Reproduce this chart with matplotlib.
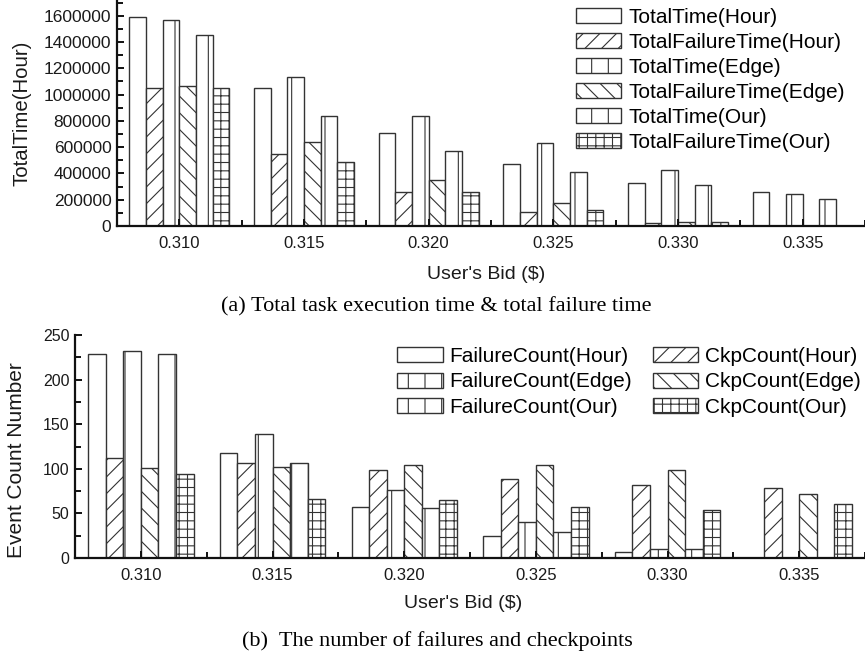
import numpy as np
import matplotlib.pyplot as plt
from matplotlib.ticker import MultipleLocator, FixedLocator, StrMethodFormatter

plt.rcParams['font.family'] = ['Liberation Sans', 'DejaVu Sans']
plt.rcParams['hatch.linewidth'] = 0.8

# ---------------- data ----------------
bids = [0.310, 0.315, 0.320, 0.325, 0.330, 0.335]
bid_labels = ["0.310", "0.315", "0.320", "0.325", "0.330", "0.335"]

# (a) total execution time / total failure time
total_time_hour = [1590000, 1050000, 710000, 472000, 328000, 262000]
fail_time_hour = [1048000, 545000, 255000, 105000, 20000, 0]
total_time_edge = [1565000, 1137000, 840000, 634000, 430000, 246000]
fail_time_edge = [1068000, 642000, 350000, 176000, 32000, 0]
total_time_our = [1453000, 840000, 570000, 408000, 315000, 202000]
fail_time_our = [1048000, 490000, 255000, 121000, 32000, 0]

# (b) failure count / checkpoint count
fail_count_hour = [229, 118, 57, 25, 7, 0]
ckp_count_hour = [112, 106, 99, 89, 82, 78]
fail_count_edge = [232, 139, 76, 40, 10, 0]
ckp_count_edge = [101, 102, 104, 104, 99, 72]
fail_count_our = [229, 106, 56, 29, 10, 0]
ckp_count_our = [94, 66, 65, 57, 54, 60]

top_series = [
    ("TotalTime(Hour)", total_time_hour, ""),
    ("TotalFailureTime(Hour)", fail_time_hour, "//"),
    ("TotalTime(Edge)", total_time_edge, "|"),
    ("TotalFailureTime(Edge)", fail_time_edge, "\\\\"),
    ("TotalTime(Our)", total_time_our, "|"),
    ("TotalFailureTime(Our)", fail_time_our, "++"),
]
bottom_series = [
    ("FailureCount(Hour)", fail_count_hour, ""),
    ("CkpCount(Hour)", ckp_count_hour, "//"),
    ("FailureCount(Edge)", fail_count_edge, "|"),
    ("CkpCount(Edge)", ckp_count_edge, "\\\\"),
    ("FailureCount(Our)", fail_count_our, "|"),
    ("CkpCount(Our)", ckp_count_our, "++"),
]

W, H = 865, 661
fig = plt.figure(figsize=(W / 100, H / 100), dpi=100)

x = np.array(bids)
width = 0.005 * 0.8 / 6
edge = "#333333"
txt = "#1a1a1a"


def px(x0, y0, x1, y1):
    # pixel box -> figure fraction rect
    return [x0 / W, 1 - y1 / H, (x1 - x0) / W, (y1 - y0) / H]


def style_axes(ax, ytick_size):
    for s in ["top", "right"]:
        ax.spines[s].set_visible(False)
    for s in ["left", "bottom"]:
        ax.spines[s].set_linewidth(1.6)
        ax.spines[s].set_color("#111111")
    ax.set_xlim(0.3075, 0.3375)
    ax.xaxis.set_major_locator(FixedLocator(bids))
    ax.xaxis.set_minor_locator(FixedLocator([b + 0.0025 for b in bids]))
    ax.set_xticklabels(bid_labels)
    ax.tick_params(axis="both", which="major", direction="in", length=5,
                   width=1.4, colors="#111111", labelcolor=txt)
    ax.tick_params(axis="both", which="minor", direction="in", length=4,
                   width=1.4, colors="#111111")
    ax.tick_params(axis="x", labelsize=12, pad=7)
    ax.tick_params(axis="y", labelsize=ytick_size, pad=4)


# ---------------- (a) ----------------
ax1 = fig.add_axes(px(117, 0, 865, 226))
handles1 = []
for i, (name, vals, hatch) in enumerate(top_series):
    b = ax1.bar(x + (i - 2.5) * width, vals, width, color="white",
                edgecolor=edge, linewidth=1.0, hatch=hatch, label=name)
    handles1.append(b)
ax1.set_ylim(0, 1720000)
ax1.yaxis.set_major_locator(FixedLocator(np.arange(0, 1600001, 200000)))
ax1.yaxis.set_minor_locator(MultipleLocator(100000))
ax1.yaxis.set_major_formatter(StrMethodFormatter("{x:.0f}"))
style_axes(ax1, 12.5)

ax1.legend(handles=handles1, loc="upper left",
           bbox_to_anchor=(576 / W, 1 - 8 / H), bbox_transform=fig.transFigure,
           frameon=False, fontsize=15, handlelength=2.15, handleheight=0.72,
           handletextpad=0.35, labelspacing=0.29, borderpad=0, borderaxespad=0)

fig.text(22 / W, 1 - 113 / H, "TotalTime(Hour)", rotation=90, fontsize=14.7,
         ha="center", va="center", color=txt)
fig.text(486 / W, 1 - 274 / H, "User's Bid ($)", fontsize=14,
         ha="center", va="center", color=txt)
fig.text(436 / W, 1 - 307 / H, "(a) Total task execution time & total failure time",
         fontsize=16, ha="center", va="center", color="black",
         family=["Liberation Serif", "DejaVu Serif"])

# ---------------- (b) ----------------
ax2 = fig.add_axes(px(75, 335, 865, 558))
handles2 = {}
for i, (name, vals, hatch) in enumerate(bottom_series):
    b = ax2.bar(x + (i - 2.5) * width, vals, width, color="white",
                edgecolor=edge, linewidth=1.0, hatch=hatch, label=name)
    handles2[name] = b
ax2.set_ylim(0, 250)
ax2.yaxis.set_major_locator(MultipleLocator(50))
ax2.yaxis.set_minor_locator(MultipleLocator(25))
style_axes(ax2, 11.5)

order = ["FailureCount(Hour)", "FailureCount(Edge)", "FailureCount(Our)",
         "CkpCount(Hour)", "CkpCount(Edge)", "CkpCount(Our)"]
ax2.legend(handles=[handles2[k] for k in order], loc="upper left", ncol=2,
           bbox_to_anchor=(397 / W, 1 - 347 / H), bbox_transform=fig.transFigure,
           frameon=False, fontsize=15, handlelength=2.2, handleheight=0.72,
           handletextpad=0.3, labelspacing=0.31, columnspacing=1.0,
           borderpad=0, borderaxespad=0)

fig.text(17 / W, 1 - 460 / H, "Event Count Number", rotation=90, fontsize=15,
         ha="center", va="center", color=txt)
fig.text(463 / W, 1 - 603 / H, "User's Bid ($)", fontsize=14,
         ha="center", va="center", color=txt)
fig.text(437 / W, 1 - 641 / H, "(b)  The number of failures and checkpoints",
         fontsize=16, ha="center", va="center", color="black",
         family=["Liberation Serif", "DejaVu Serif"])

fig.savefig("out.png", dpi=100, facecolor="white")
